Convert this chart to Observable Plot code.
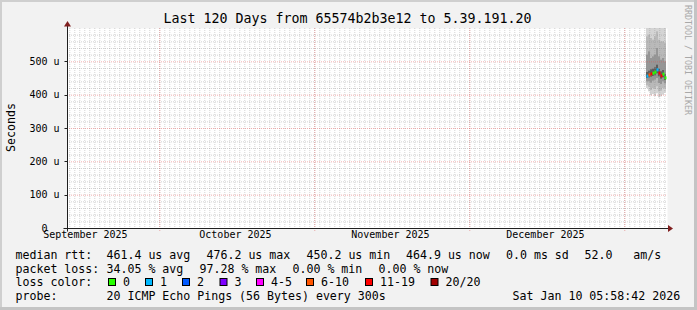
<!DOCTYPE html>
<html><head><meta charset="utf-8">
<script src="https://cdn.jsdelivr.net/npm/d3@7"></script>
<script src="https://cdn.jsdelivr.net/npm/@observablehq/plot@0.6"></script>
<style>
html,body{margin:0;padding:0;background:#f2f2f2;}
#chart svg{display:block;}
</style></head><body><div id="chart"></div>
<script>
// ---- data ----
const startTime = "2025-09-12T05:58:42Z";
const endTime = "2026-01-10T05:58:42Z";
const monthGridDates = ["2025-09-30T17:00:00Z","2025-10-31T17:00:00Z","2025-12-01T17:00:00Z","2026-01-01T17:00:00Z"];
const monthLabelDates = ["2025-09-15T20:00:00Z","2025-10-15T20:00:00Z","2025-11-15T20:00:00Z","2025-12-16T20:00:00Z"];
const monthLabels = ["September 2025","October 2025","November 2025","December 2025"];
const yTickValues = [0,100,200,300,400,500];
const yTickLabels = ["0\u00a0\u00a0","100 u","200 u","300 u","400 u","500 u"];

const colTimes = ["2026-01-06T01:10:00Z","2026-01-06T10:46:00Z","2026-01-06T20:22:00Z","2026-01-07T05:58:00Z","2026-01-07T15:34:00Z","2026-01-08T01:10:00Z","2026-01-08T10:46:00Z","2026-01-08T20:22:00Z","2026-01-09T05:58:00Z","2026-01-09T15:34:00Z","2026-01-10T01:10:00Z"];
const medianUs = [457, 461, 464, 466, 469, 476, 466, 458, 463, 452];
const lossCat  = ["1","6-10","11-19","0","0","1","11-19","11-19","0","0"];
const smokeMin = [420, 410, 398, 402, 396, 404, 392, 395, 400, 406];
const smokeP10 = [428, 424, 414, 420, 418, 425, 410, 412, 420, 420];
const smokeP25 = [440, 440, 436, 442, 445, 450, 435, 432, 440, 434];
const smokeP40 = [450, 452, 454, 456, 458, 464, 455, 448, 452, 444];
const smokeP60 = [468, 472, 476, 478, 482, 490, 478, 470, 474, 462];
const smokeP75 = [520, 530, 510, 515, 520, 540, 515, 505, 510, 500];
const smokeP90 = [575, 580, 570, 565, 575, 590, 565, 560, 560, 555];
const smokeMax = [640, 620, 610, 615, 625, 640, 605, 610, 605, 600];

const lossCategories = ["0","1","2","3","4-5","6-10","11-19","20/20"];
const lossColors = ["#26ff00","#00b8ff","#0059ff","#7e00ff","#ff00ff","#ff5500","#ff0000","#a10000"];

const titleText = "Last 120 Days from 65574b2b3e12 to 5.39.191.20";
const yAxisTitle = "Seconds";
const watermark = "RRDTOOL / TOBI OETIKER";
const rttLabel = "median rtt:";
const rttItems = ["461.4 us avg","476.2 us max","450.2 us min","464.9 us now","0.0 ms sd","52.0   am/s"];
const lossLabel = "packet loss:";
const lossItems = ["34.05 % avg","97.28 % max","0.00 % min","0.00 % now"];
const colorLabel = "loss color:";
const probeLabel = "probe:";
const probeText = "20 ICMP Echo Pings (56 Bytes) every 300s";
const stampText = "Sat Jan 10 05:58:42 2026";

// ---- build ----
const start = new Date(startTime), end = new Date(endTime);
const cols = medianUs.map((m, i) => ({
  t0: new Date(colTimes[i]), t1: new Date(colTimes[i + 1]), med: m, loss: lossCat[i],
  min: smokeMin[i], p10: smokeP10[i], p25: smokeP25[i], p40: smokeP40[i],
  p60: smokeP60[i], p75: smokeP75[i], p90: smokeP90[i], max: smokeMax[i]
}));
const smokeLayers = [["min","max","#d4d4d4"],["p10","p90","#b9b9b9"],["p25","p75","#969696"],["p40","p60","#5e5e5e"]];

const minorX = d3.utcDay.range(d3.utcDay.floor(start), end)
  .map(d => d3.utcHour.offset(d, 17)).filter(d => d > start && d < end);
const minorY = d3.range(20, 600, 20).filter(v => v % 100 !== 0);
const majorY = yTickValues.filter(v => v > 0);
const FONT = "DejaVu Sans Mono";

const chart = Plot.plot({
  width: 697, height: 310,
  marginLeft: 67, marginRight: 30, marginTop: 28, marginBottom: 82,
  x: {type: "utc", domain: [start, end], axis: null},
  y: {domain: [0, 600], axis: null},
  color: {domain: lossCategories, range: lossColors},
  style: {background: "#f2f2f2", fontFamily: FONT, fontSize: "10px", color: "#000", overflow: "visible"},
  marks: [
    Plot.frame({fill: "#ffffff", stroke: "none"}),
    ...smokeLayers.map(([lo, hi, fill]) => Plot.rect(cols, {x1: "t0", x2: "t1", y1: lo, y2: hi, fill, clip: true})),
    Plot.ruleX(minorX, {stroke: "#8f8f8f", strokeOpacity: 0.38, strokeDasharray: "1,1"}),
    Plot.ruleY(minorY, {stroke: "#8f8f8f", strokeOpacity: 0.38, strokeDasharray: "1,1"}),
    Plot.ruleX(monthGridDates.map(d => new Date(d)), {stroke: "#de4f4f", strokeOpacity: 0.45, strokeDasharray: "1,1", insetBottom: -3}),
    Plot.ruleY(majorY, {stroke: "#de4f4f", strokeOpacity: 0.45, strokeDasharray: "1,1"}),
    Plot.link(cols, {x1: "t0", x2: "t1", y1: "med", y2: "med", stroke: "loss", strokeWidth: 3, clip: true}),
    Plot.text(yTickValues, {y: d => d, text: (d, i) => yTickLabels[i], frameAnchor: "left", textAnchor: "end", dx: -8, fill: "#000", fontSize: 10}),
    Plot.text(monthLabelDates, {x: d => new Date(d), text: (d, i) => monthLabels[i], frameAnchor: "bottom", dy: 9, fill: "#000", fontSize: 10})
  ]
});
document.getElementById("chart").append(chart);

const svg = d3.select(chart);
const xs = v => chart.scale("x").apply(v);
const ys = v => chart.scale("y").apply(v);
const x0 = Math.round(xs(start)) + 0.5, x1 = xs(end);
const y0 = Math.round(ys(0)) + 0.5, yTop = ys(600);

// borders
svg.insert("rect", ":first-child").attr("x", 0).attr("y", 0).attr("width", 697).attr("height", 310).attr("fill", "#f2f2f2");
svg.append("rect").attr("x", 0).attr("y", 0).attr("width", 697).attr("height", 2).attr("fill", "#cfcfcf");
svg.append("rect").attr("x", 0).attr("y", 0).attr("width", 2).attr("height", 310).attr("fill", "#cfcfcf");
svg.append("rect").attr("x", 694).attr("y", 0).attr("width", 3).attr("height", 310).attr("fill", "#c4c4c4");
svg.append("rect").attr("x", 0).attr("y", 307).attr("width", 697).attr("height", 3).attr("fill", "#c4c4c4");

// axes
const g = svg.append("g");
majorY.forEach(v => g.append("line").attr("x1", x0 - 3).attr("x2", x0).attr("y1", Math.round(ys(v)) + 0.5).attr("y2", Math.round(ys(v)) + 0.5).attr("stroke", "#1f1f1f"));
g.append("line").attr("x1", x0).attr("x2", x0).attr("y1", y0 + 3).attr("y2", yTop - 2).attr("stroke", "#1f1f1f");
g.append("line").attr("x1", x0 - 4).attr("x2", x1 + 2).attr("y1", y0).attr("y2", y0).attr("stroke", "#1f1f1f");
g.append("path").attr("d", `M${x0},${yTop - 7}L${x0 - 3.5},${yTop - 1.5}L${x0 + 3.5},${yTop - 1.5}Z`).attr("fill", "#801f1f");
g.append("path").attr("d", `M${x1 + 6},${y0}L${x1 + 1},${y0 - 3.5}L${x1 + 1},${y0 + 3.5}Z`).attr("fill", "#801f1f");

// title, unit, watermark
const txt = (x, y, s, size, extra = {}) => {
  const t = svg.append("text").attr("x", x).attr("y", y).text(s)
    .attr("font-family", FONT).attr("font-size", size).attr("fill", extra.fill || "#000")
    .attr("text-anchor", extra.anchor || "start")
    .style("white-space", "pre");
  if (extra.transform) t.attr("transform", extra.transform);
  return t;
};
txt(347.5, 23, titleText, 13.3, {anchor: "middle"});
txt(0, 0, yAxisTitle, 11.6, {anchor: "middle", transform: "translate(15,127.5) rotate(-90)"});
txt(0, 0, watermark, 8.3, {fill: "#a8a8a8", transform: "translate(685,5) rotate(90)"});

// legend
const rowY = [258.7, 272.5, 286.3, 300.1];
const LF = 11.6;
txt(15.5, rowY[0], rttLabel, LF);
[106.5, 206.5, 306.5, 406, 506, 584.5].forEach((x, i) => txt(x, rowY[0], rttItems[i], LF));
txt(15.5, rowY[1], lossLabel, LF);
[106.5, 199.5, 292.5, 378.5].forEach((x, i) => txt(x, rowY[1], lossItems[i], LF));
txt(15.5, rowY[2], colorLabel, LF);
const swX = [108.5, 145.5, 182.5, 220, 256.5, 306.5, 365.5, 431];
lossCategories.forEach((c, i) => {
  svg.append("rect").attr("x", swX[i]).attr("y", 278.5).attr("width", 7).attr("height", 7)
    .attr("fill", lossColors[i]).attr("stroke", "#000").attr("stroke-width", 1);
  txt(swX[i] + 14.5, rowY[2], c, LF);
});
txt(15.5, rowY[3], probeLabel, LF);
txt(106.5, rowY[3], probeText, LF);
txt(512.6, rowY[3], stampText, LF);
</script></body></html>
